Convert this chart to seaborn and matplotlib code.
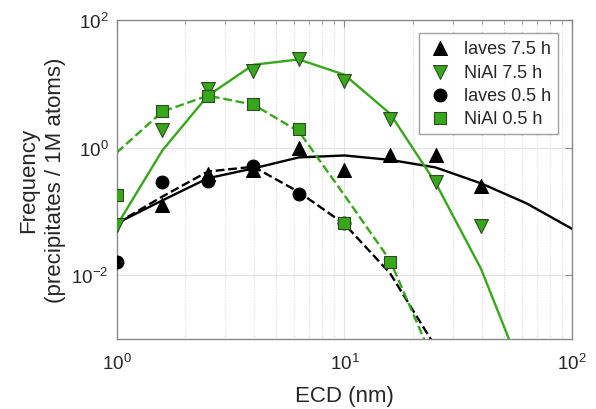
import numpy as np
import pandas as pd
import seaborn as sns
import matplotlib.pyplot as plt
from matplotlib.ticker import LogLocator, NullLocator

# marker data (ECD in nm, frequency per 1M atoms)
ecd = [1.0, 1.585, 2.512, 3.981, 6.31, 10.0, 15.85, 25.12, 39.81]
laves_75 = [None, 0.124, 0.38, 0.45, 1.0, 0.44, 0.75, 0.75, 0.245]
nial_75 = [0.06, 1.85, 8.3, 15.9, 24.6, 11.1, 2.84, 0.284, 0.059]
laves_05 = [0.0159, 0.29, 0.30, 0.52, 0.19, 0.065, None, None, None]
nial_05 = [0.178, 3.79, 6.5, 4.87, 1.98, 0.065, 0.0159, None, None]

# fitted curves, evaluated every 0.2 decade
fit_x = [1.0, 1.585, 2.512, 3.981, 6.31, 10.0, 15.85, 25.12, 39.81, 63.1, 100.0]
fit_laves_75 = [0.065, 0.148, 0.33, 0.47, 0.70, 0.75, 0.64, 0.487, 0.274, 0.133, 0.053]
fit_nial_75 = [0.06, 0.90, 6.5, 19.8, 24.0, 13.8, 3.4, 0.28, 0.0125, 2e-4, 1.6e-6]
fit_laves_05 = [0.065, 0.17, 0.42, 0.50, 0.20, 0.063, 0.0107, 7.5e-4, 1e-5]
fit_nial_05 = [0.835, 3.65, 6.5, 4.7, 1.78, 0.178, 0.017, 3.8e-4, 3e-6]

green = '#36a81a'

sns.set_style('white')
plt.rcParams['font.family'] = ['Liberation Sans', 'DejaVu Sans']
plt.rcParams['mathtext.default'] = 'regular'

fig = plt.figure(figsize=(5.96, 4.10), dpi=100)
ax = fig.add_axes([0.196, 0.171, 0.764, 0.778])
ax.set_xscale('log')
ax.set_yscale('log')
ax.set_axisbelow(True)

fits = [
    (fit_laves_75, 'black', '-'),
    (fit_nial_75, green, '-'),
    (fit_laves_05, 'black', '--'),
    (fit_nial_05, green, '--'),
]
for vals, col, ls in fits:
    d = pd.DataFrame({'x': fit_x[:len(vals)], 'y': vals})
    sns.lineplot(data=d, x='x', y='y', ax=ax, color=col, linestyle=ls,
                 linewidth=1.7, sort=False, legend=False, zorder=2)

# name, values, marker, face, edge, size
series = [
    ('laves 7.5 h', laves_75, '^', 'black', 'black', 100),
    ('NiAl 7.5 h', nial_75, 'v', green, '#2f4a22', 100),
    ('laves 0.5 h', laves_05, 'o', 'black', 'black', 85),
    ('NiAl 0.5 h', nial_05, 's', green, '#2f4a22', 68),
]
for name, vals, mk, fc, ec, sz in series:
    d = pd.DataFrame({'x': ecd, 'y': vals}).dropna()
    sns.scatterplot(data=d, x='x', y='y', ax=ax, marker=mk, color=fc,
                    edgecolor=ec, linewidth=0.8, s=sz, label=name, zorder=3)

ax.set_xlim(1, 100)
ax.set_ylim(1e-3, 1e2)

ax.xaxis.set_major_locator(LogLocator(base=10, numticks=5))
ax.xaxis.set_minor_locator(LogLocator(base=10, subs=np.arange(2, 10), numticks=10))
ax.set_yticks([1e-2, 1e0, 1e2])
ax.yaxis.set_minor_locator(NullLocator())

ax.grid(which='major', color='#e2e2e2', linewidth=0.8, linestyle='-')
ax.grid(which='minor', axis='x', color='#d2d2d2', linewidth=0.7, linestyle=':')

for sp in ax.spines.values():
    sp.set_color('#8a8a8a')
    sp.set_linewidth(1.0)

ax.tick_params(which='both', direction='in', top=True, right=True,
               colors='#8a8a8a', labelcolor='#262626', labelsize=13.5)
ax.tick_params(which='major', length=5)
ax.tick_params(which='minor', length=3)
ax.tick_params(axis='x', pad=10)
ax.tick_params(axis='y', pad=6)

ax.set_xlabel('ECD (nm)', fontsize=16, color='#262626', labelpad=9)
ax.set_ylabel('Frequency\n(precipitates / 1M atoms)', fontsize=16,
              color='#262626', labelpad=4, linespacing=1.35)

leg = ax.legend(loc='upper right', bbox_to_anchor=(0.969, 0.959), fontsize=13,
                frameon=True, fancybox=False, edgecolor='#8a8a8a',
                handletextpad=0.5, borderpad=0.4, labelspacing=0.35,
                handlelength=1.6, borderaxespad=0)
leg.get_frame().set_linewidth(1.0)
for t in leg.get_texts():
    t.set_color('#262626')

fig.savefig('out.png', dpi=100)
